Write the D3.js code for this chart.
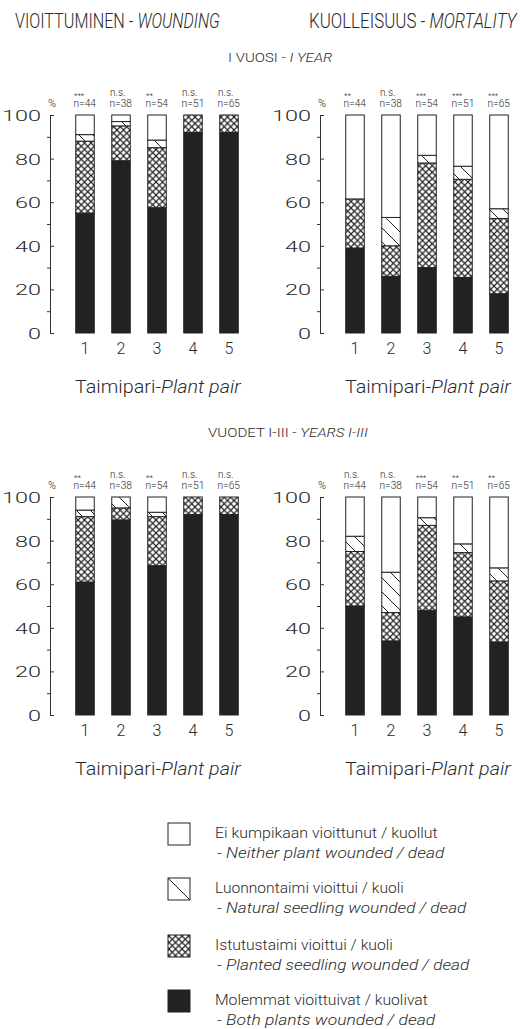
<!DOCTYPE html>
<html>
<head>
<meta charset="utf-8">
<script src="https://cdn.jsdelivr.net/npm/d3@7"></script>
<style>
  body { margin: 0; background: #fff; }
  svg { display: block; }
  text { font-family: Roboto, "DejaVu Sans", sans-serif; font-weight: 300; fill: #2a2a2a; }
</style>
</head>
<body>
<div id="chart"></div>
<script>
// pair numbers and sample sizes
const pairs = ["1", "2", "3", "4", "5"];
const sampleN = [44, 38, 54, 51, 65];

// significance marks above each bar
const sigWoundY1 = ["***", "n.s.", "**", "n.s.", "n.s."];
const sigMortY1 = ["**", "n.s.", "***", "***", "***"];
const sigWoundY13 = ["**", "n.s.", "**", "n.s.", "n.s."];
const sigMortY13 = ["n.s.", "n.s.", "***", "**", "**"];

// shares in %, from bottom to top: both, planted, natural, neither
const woundY1Both = [55, 79, 57.5, 92, 92];
const woundY1Planted = [33, 16, 27.5, 8, 8];
const woundY1Natural = [3, 2, 3.5, 0, 0];
const woundY1Neither = [9, 3, 11.5, 0, 0];

const mortY1Both = [39, 26, 30, 25.5, 18];
const mortY1Planted = [22.5, 14, 48, 45, 34.5];
const mortY1Natural = [0, 13, 3.5, 6, 4.5];
const mortY1Neither = [38.5, 47, 18.5, 23.5, 43];

const woundY13Both = [61, 89.5, 68.5, 92, 92];
const woundY13Planted = [30, 5.5, 22.5, 8, 8];
const woundY13Natural = [3, 5, 2, 0, 0];
const woundY13Neither = [6, 0, 7, 0, 0];

const mortY13Both = [50, 34, 48, 45, 33.5];
const mortY13Planted = [25, 13, 39, 29.5, 28];
const mortY13Natural = [7, 18.5, 3.5, 4, 6];
const mortY13Neither = [18, 34.5, 9.5, 21.5, 32.5];

const keys = ["both", "planted", "natural", "neither"];
const yTicks = [0, 20, 40, 60, 80, 100];
const yMinor = [10, 30, 50, 70, 90];

const legendFi = ["Ei kumpikaan vioittunut / kuollut", "Luonnontaimi vioittui / kuoli",
  "Istutustaimi vioittui / kuoli", "Molemmat vioittuivat / kuolivat"];
const legendEn = ["- Neither plant wounded / dead", "- Natural seedling wounded / dead",
  "- Planted seedling wounded / dead", "- Both plants wounded / dead"];
const legendKeys = ["neither", "natural", "planted", "both"];

const W = 521, H = 1029;
const svg = d3.select("#chart").append("svg").attr("width", W).attr("height", H);

const defs = svg.append("defs");
const cross = defs.append("pattern").attr("id", "cross")
  .attr("patternUnits", "userSpaceOnUse").attr("width", 6.5).attr("height", 6.5);
cross.append("rect").attr("width", 6.5).attr("height", 6.5).attr("fill", "#fff");
cross.append("path").attr("d", "M0,0L6.5,6.5M6.5,0L0,6.5")
  .attr("stroke", "#222").attr("stroke-width", 1.2);
const diag = defs.append("pattern").attr("id", "diag")
  .attr("patternUnits", "userSpaceOnUse").attr("width", 14).attr("height", 14);
diag.append("rect").attr("width", 14).attr("height", 14).attr("fill", "#fff");
diag.append("path").attr("d", "M0,0L14,14M-7,7L7,21M7,-7L21,7")
  .attr("stroke", "#222").attr("stroke-width", 1);

const fills = { both: "#222", planted: "url(#cross)", natural: "url(#diag)", neither: "#fff" };

// stretch a text to a given width (the original lettering is wider / narrower than our fonts)
function fit(t, x, y, width) {
  const w = t.node().getBBox().width;
  t.attr("transform", `translate(${x},${y}) scale(${width / w},1)`);
  return t;
}
function mixedText(x, y, size, parts, width) {
  const t = svg.append("text").attr("font-size", size);
  parts.forEach(p => t.append("tspan").text(p[0]).attr("font-style", p[1] ? "italic" : null));
  return fit(t, x, y, width);
}

function makeRows(both, planted, natural, neither) {
  return pairs.map((p, i) => ({ pair: p, both: both[i], planted: planted[i], natural: natural[i], neither: neither[i] }));
}

const panels = [
  { axisX: 50, range: [67, 247], yr: [333, 115], sig: sigWoundY1,
    rows: makeRows(woundY1Both, woundY1Planted, woundY1Natural, woundY1Neither) },
  { axisX: 320, range: [337, 517], yr: [333, 115], sig: sigMortY1,
    rows: makeRows(mortY1Both, mortY1Planted, mortY1Natural, mortY1Neither) },
  { axisX: 50, range: [67, 247], yr: [715, 497], sig: sigWoundY13,
    rows: makeRows(woundY13Both, woundY13Planted, woundY13Natural, woundY13Neither) },
  { axisX: 320, range: [337, 517], yr: [715, 497], sig: sigMortY13,
    rows: makeRows(mortY13Both, mortY13Planted, mortY13Natural, mortY13Neither) }
];

const stack = d3.stack().keys(keys);

panels.forEach(pn => {
  const x = d3.scaleBand().domain(pairs).range(pn.range).paddingInner(0.486).paddingOuter(0.243);
  const y = d3.scaleLinear().domain([0, 100]).range(pn.yr);
  const g = svg.append("g");

  // y axis: major ticks inward, minor ticks outward, capped ends
  const ax = g.append("g").attr("transform", `translate(${pn.axisX},0)`)
    .call(d3.axisLeft(y).tickValues(yTicks).tickSizeInner(-4).tickSizeOuter(-4).tickPadding(9));
  ax.select(".domain").attr("stroke", "#333");
  ax.selectAll(".tick line").attr("stroke", "#333");
  ax.selectAll(".tick text").attr("font-size", 15).attr("font-family", null).attr("fill", null)
    .attr("dy", "0.36em")
    .attr("textLength", d => String(d).length * 13).attr("lengthAdjust", "spacingAndGlyphs");
  const mn = g.append("g").attr("transform", `translate(${pn.axisX},0)`)
    .call(d3.axisLeft(y).tickValues(yMinor).tickSize(3).tickFormat(""));
  mn.select(".domain").remove();
  mn.selectAll(".tick line").attr("stroke", "#333");

  svg.append("text").attr("x", pn.axisX - 2).attr("y", pn.yr[1] - 8)
    .attr("font-size", 11).text("%");

  // stacked bars
  const series = stack(pn.rows);
  g.selectAll(".layer").data(series).join("g")
    .attr("fill", d => fills[d.key])
    .selectAll("rect").data(d => d.filter(s => s[1] - s[0] > 0)).join("rect")
    .attr("x", d => x(d.data.pair))
    .attr("width", x.bandwidth())
    .attr("y", d => y(d[1]))
    .attr("height", d => y(d[0]) - y(d[1]))
    .attr("stroke", "#222").attr("stroke-width", 1);

  // n and significance labels
  pairs.forEach((p, i) => {
    const cx = x(p) + x.bandwidth() / 2;
    const nt = g.append("text").attr("font-size", 10).text("n=" + sampleN[i]);
    fit(nt, cx - 11.5, pn.yr[1] - 8, 23);
    const s = pn.sig[i];
    g.append("text").attr("x", cx - 11).attr("y", pn.yr[1] - (s === "n.s." ? 19 : 17))
      .attr("font-size", s === "n.s." ? 10 : 8).attr("font-weight", s === "n.s." ? null : 700)
      .text(s);
    g.append("text").attr("x", cx).attr("y", pn.yr[0] + 21).attr("text-anchor", "middle")
      .attr("font-size", 16).text(p);
  });

  mixedText(pn.axisX + 25, pn.yr[0] + 60, 18, [["Taimipari-", false], ["Plant pair", true]], 167);
});

// titles
mixedText(15, 28, 21, [["VIOITTUMINEN - ", false], ["WOUNDING", true]], 205);
mixedText(309, 28, 21, [["KUOLLEISUUS - ", false], ["MORTALITY", true]], 209);
mixedText(228, 62, 12, [["I VUOSI - ", false], ["I YEAR", true]], 105);
mixedText(208, 437, 12, [["VUODET I-III  - ", false], ["YEARS I-III", true]], 160);

// legend
const legendY = [823, 878, 935, 990];
const fiWidth = [223, 189, 178, 213];
const enWidth = [228, 250, 253, 219];
legendKeys.forEach((k, i) => {
  const y0 = legendY[i];
  svg.append("rect").attr("x", 168).attr("y", y0).attr("width", 22).attr("height", 22)
    .attr("fill", k === "natural" ? "#fff" : fills[k]).attr("stroke", "#222").attr("stroke-width", 1);
  if (k === "natural") {
    svg.append("line").attr("x1", 168).attr("y1", y0).attr("x2", 190).attr("y2", y0 + 22)
      .attr("stroke", "#222").attr("stroke-width", 1);
  }
  fit(svg.append("text").attr("font-size", 14).text(legendFi[i]), 215, y0 + 15, fiWidth[i]);
  fit(svg.append("text").attr("font-size", 14).attr("font-style", "italic").text(legendEn[i]),
    217, y0 + 35, enWidth[i]);
});
</script>
</body>
</html>
